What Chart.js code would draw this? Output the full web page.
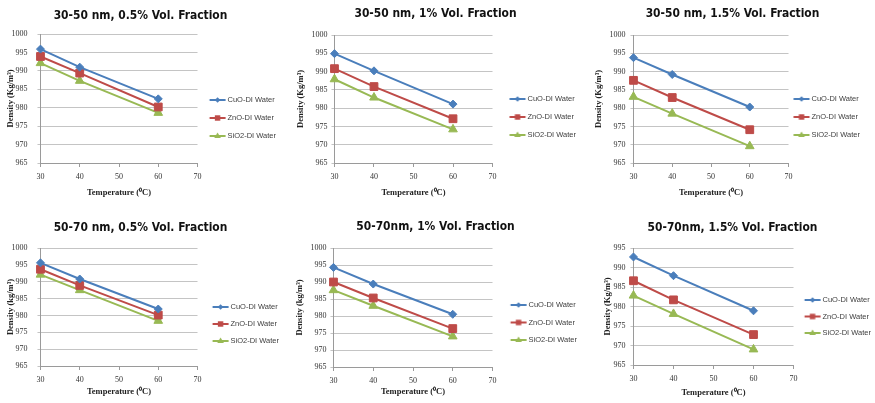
<!DOCTYPE html>
<html>
<head>
<meta charset="utf-8">
<title>Density vs temperature</title>
<script src="https://cdn.jsdelivr.net/npm/chart.js@4.4.1/dist/chart.umd.min.js"></script>
<style>
  html, body { margin: 0; padding: 0; background: #fff; }
  body { position: relative; width: 875px; height: 403px; overflow: hidden; }
  canvas { position: absolute; }
</style>
</head>
<body>
<script>
// values (x = temperature in degC)
const temperatures = [30, 40, 60];
const seriesNames = ['CuO-DI Water', 'ZnO-DI Water', 'SiO2-DI Water'];
const panelTitles = [
  '30-50 nm, 0.5% Vol. Fraction',
  '30-50 nm, 1% Vol. Fraction',
  '30-50 nm, 1.5% Vol. Fraction',
  '50-70 nm, 0.5% Vol. Fraction',
  '50-70nm, 1% Vol. Fraction',
  '50-70nm, 1.5% Vol. Fraction'
];
const yAxisTitles = ['Density (Kg/m³)', 'Density (Kg/m³)', 'Density (Kg/m³)', 'Density (kg/m³)', 'Density (kg/m³)', 'Density (Kg/m³)'];
const xAxisTitle = 'Temperature (⁰C)';
const xTickMin = 30, xTickMax = 70, xTickStep = 10;
const yTickMins = [965, 965, 965, 965, 965, 965];
const yTickMaxes = [1000, 1000, 1000, 1000, 1000, 995];
const yTickStep = 5;

const cuoDensity = [
  [995.9, 991.0, 982.4],
  [994.9, 990.2, 981.1],
  [993.8, 989.2, 980.3],
  [995.6, 990.8, 981.9],
  [994.3, 989.4, 980.5],
  [992.7, 987.9, 978.9]
];
const znoDensity = [
  [993.9, 989.4, 980.2],
  [990.8, 985.9, 977.1],
  [987.6, 982.9, 974.1],
  [993.7, 988.9, 980.1],
  [990.0, 985.3, 976.3],
  [986.6, 981.7, 972.8]
];
const sio2Density = [
  [992.1, 987.3, 978.6],
  [987.9, 982.9, 974.2],
  [983.1, 978.5, 969.6],
  [992.1, 987.5, 978.4],
  [987.6, 983.0, 974.0],
  [982.8, 978.1, 969.0]
];

// page layout of each panel (pixels)
const panelBoxes = [
  {top: 0,   height: 200, plotLeft: 40,  plotRight: 197, plotTop: 34,  plotBottom: 163, titleX: 140, titleY: 16,  yTitleX: 10,  xTitleY: 193, tickGap: 13, legendGap: 12, legendY: 100, legendStep: 18},
  {top: 0,   height: 200, plotLeft: 334, plotRight: 492, plotTop: 35,  plotBottom: 163, titleX: 435, titleY: 14,  yTitleX: 300, xTitleY: 193, tickGap: 7,  legendGap: 17, legendY: 99,  legendStep: 18},
  {top: 0,   height: 200, plotLeft: 633, plotRight: 788, plotTop: 35,  plotBottom: 163, titleX: 732, titleY: 14,  yTitleX: 598, xTitleY: 193, tickGap: 8,  legendGap: 5,  legendY: 99,  legendStep: 18},
  {top: 205, height: 194, plotLeft: 40,  plotRight: 197, plotTop: 248, plotBottom: 366, titleX: 140, titleY: 228, yTitleX: 10,  xTitleY: 392, tickGap: 13, legendGap: 15, legendY: 307, legendStep: 17},
  {top: 205, height: 194, plotLeft: 333, plotRight: 492, plotTop: 248, plotBottom: 367, titleX: 435, titleY: 227, yTitleX: 299, xTitleY: 392, tickGap: 7,  legendGap: 18, legendY: 305, legendStep: 17.5},
  {top: 205, height: 194, plotLeft: 633, plotRight: 793, plotTop: 248, plotBottom: 365, titleX: 732, titleY: 228, yTitleX: 607, xTitleY: 393, tickGap: 8,  legendGap: 11, legendY: 300, legendStep: 16.5}
];
const titleWidth = 174;

const seriesColors = ['#4a7ebb', '#be4b48', '#98b954'];
const seriesMarkers = ['rectRot', 'rect', 'triangle'];
const markerRadius = [4, 5.5, 5];

const titleFamily = "'Liberation Sans Narrow', 'DejaVu Sans Condensed', sans-serif";
const tickFont = {family: "'Liberation Serif', serif", size: 8};
const axisTitleFont = {family: "'Liberation Serif', serif", size: 8.5, weight: 'bold'};
const legendFont = {family: "'Liberation Sans', sans-serif", size: 7.5};
const legendLineLen = 16;

const measureCtx = document.createElement('canvas').getContext('2d');
measureCtx.font = 'normal ' + legendFont.size + 'px ' + legendFont.family;
const legendTextWidth = Math.max(...seriesNames.map(s => measureCtx.measureText(s).width));
measureCtx.font = 'normal bold 15px ' + titleFamily;
const titleSize = Math.min(15, 15 * titleWidth / measureCtx.measureText(panelTitles[0]).width);
const titleFont = {family: titleFamily, size: titleSize, weight: 'bold'};

function legendIcon(color, marker, radius, start, length) {
  const half = Math.ceil(Math.max(Math.abs(start), Math.abs(start + length))) + 2;
  const c = document.createElement('canvas');
  c.width = half * 2;
  c.height = 14;
  const g = c.getContext('2d');
  const x0 = half + start, cy = 7, mx = x0 + length / 2;
  g.strokeStyle = color;
  g.lineWidth = 2;
  g.beginPath();
  g.moveTo(x0, cy);
  g.lineTo(x0 + length, cy);
  g.stroke();
  g.fillStyle = color;
  g.beginPath();
  if (marker === 'rect') {
    const s = radius * Math.SQRT1_2;
    g.rect(mx - s, cy - s, 2 * s, 2 * s);
  } else if (marker === 'rectRot') {
    g.moveTo(mx, cy - radius);
    g.lineTo(mx + radius, cy);
    g.lineTo(mx, cy + radius);
    g.lineTo(mx - radius, cy);
    g.closePath();
  } else {
    g.moveTo(mx, cy - radius);
    g.lineTo(mx + radius * 0.95, cy + radius * 0.6);
    g.lineTo(mx - radius * 0.95, cy + radius * 0.6);
    g.closePath();
  }
  g.fill();
  return c;
}

panelBoxes.forEach((box, k) => {
  const fs = legendFont.size;
  const pad = box.legendStep - fs;
  const boxWidth = box.legendGap - pad + legendLineLen + 2 - fs / 2;
  const legendWidth = pad + boxWidth + fs / 2 + legendTextWidth + 10;
  const right = box.plotRight + legendWidth;
  const left = 2 * box.titleX - right;
  const width = Math.round(right - left);
  const yWidth = box.plotLeft - left;
  const xHeight = box.top + box.height - box.plotBottom;
  const legendLift = Math.max(0, 2 * (box.legendY - box.top - fs / 2) - pad - box.height + 3 * (fs + pad) - 1.2);
  const iconStart = box.legendGap - pad - boxWidth / 2;
  const icons = seriesColors.map((c, i) => legendIcon(c, seriesMarkers[i], markerRadius[i] * 0.7, iconStart, legendLineLen));
  const halfTitle = titleSize * 0.6;

  const canvas = document.createElement('canvas');
  canvas.width = width;
  canvas.height = box.height;
  canvas.style.left = left + 'px';
  canvas.style.top = box.top + 'px';
  document.body.appendChild(canvas);

  const series = [cuoDensity[k], znoDensity[k], sio2Density[k]];

  new Chart(canvas.getContext('2d'), {
    type: 'line',
    data: {
      datasets: series.map((vals, i) => ({
        label: seriesNames[i],
        data: temperatures.map((t, j) => ({x: t, y: vals[j]})),
        borderColor: seriesColors[i],
        backgroundColor: seriesColors[i],
        borderWidth: 2,
        pointStyle: seriesMarkers[i],
        pointRadius: markerRadius[i],
        pointBorderWidth: 1,
        pointBackgroundColor: seriesColors[i],
        pointBorderColor: seriesColors[i],
        tension: 0,
        clip: false
      }))
    },
    options: {
      responsive: false,
      animation: false,
      layout: {padding: 0},
      plugins: {
        title: {
          display: true,
          text: panelTitles[k],
          color: '#111',
          font: titleFont,
          padding: {top: box.titleY - box.top - halfTitle, bottom: box.plotTop - box.titleY - halfTitle}
        },
        legend: {
          position: 'right',
          align: 'center',
          maxWidth: 400,
          title: {display: true, text: '', font: {size: 1}, padding: {top: legendLift, bottom: 0}},
          labels: {
            usePointStyle: true,
            pointStyleWidth: boxWidth,
            padding: pad,
            color: '#404040',
            font: legendFont,
            generateLabels: chart => chart.data.datasets.map((ds, i) => ({
              text: ds.label,
              pointStyle: icons[i],
              fillStyle: ds.backgroundColor,
              strokeStyle: ds.borderColor,
              lineWidth: 0,
              hidden: false,
              fontColor: '#404040',
              datasetIndex: i
            }))
          }
        },
        tooltip: {enabled: false}
      },
      scales: {
        x: {
          type: 'linear',
          min: xTickMin,
          max: xTickMax,
          afterFit: scale => { scale.height = xHeight; },
          ticks: {stepSize: xTickStep, color: '#333', font: tickFont, padding: 5},
          grid: {drawOnChartArea: false, tickLength: 4, color: '#9a9a9a'},
          border: {color: '#9a9a9a'},
          title: {
            display: true,
            text: xAxisTitle,
            color: '#222',
            font: axisTitleFont,
            padding: {top: 0, bottom: box.top + box.height - box.xTitleY - 5.1}
          }
        },
        y: {
          min: yTickMins[k],
          max: yTickMaxes[k],
          afterFit: scale => { scale.width = yWidth; },
          ticks: {stepSize: yTickStep, color: '#333', font: tickFont, padding: box.tickGap - 3, format: {useGrouping: false}},
          grid: {color: '#c4c4c4', tickLength: 3},
          border: {color: '#9a9a9a'},
          title: {
            display: true,
            text: yAxisTitles[k],
            color: '#222',
            font: axisTitleFont,
            padding: {top: box.yTitleX - left - 5.1, bottom: 0}
          }
        }
      }
    }
  });
});
</script>
</body>
</html>
